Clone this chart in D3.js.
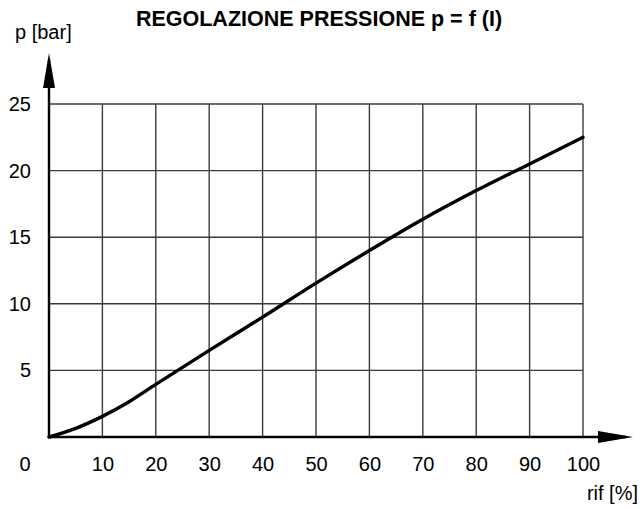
<!DOCTYPE html>
<html>
<head>
<meta charset="utf-8">
<script src="https://cdn.jsdelivr.net/npm/d3@7"></script>
<style>
  body { margin: 0; background: #fff; }
  svg { display: block; font-family: "Liberation Sans", Arial, sans-serif; }
</style>
</head>
<body>
<div id="chart"></div>
<script>
// curve: rif [%] -> p [bar]
const rif = [0, 5, 10, 15, 20, 30, 40, 50, 60, 70, 80, 90, 100];
const pressure = [0, 0.65, 1.55, 2.65, 3.95, 6.5, 9.0, 11.55, 14.0, 16.35, 18.5, 20.5, 22.5];
const xTicks = [10, 20, 30, 40, 50, 60, 70, 80, 90, 100];
const yTicks = [5, 10, 15, 20, 25];

const width = 640, height = 509;
const margin = { left: 49, right: 57, top: 104, bottom: 72 };
const fs = "20px";

const svg = d3.select("#chart").append("svg")
  .attr("width", width)
  .attr("height", height);

const x = d3.scaleLinear().domain([0, 100]).range([margin.left, width - margin.right]);
const y = d3.scaleLinear().domain([0, 25]).range([height - margin.bottom, margin.top]);

// grid
svg.append("g")
  .selectAll("line")
  .data(xTicks)
  .join("line")
  .attr("x1", d => x(d)).attr("x2", d => x(d))
  .attr("y1", y(0)).attr("y2", y(25))
  .attr("stroke", "#3a3a3a")
  .attr("stroke-width", 1.4);

svg.append("g")
  .selectAll("line")
  .data(yTicks)
  .join("line")
  .attr("x1", x(0)).attr("x2", x(100))
  .attr("y1", d => y(d)).attr("y2", d => y(d))
  .attr("stroke", "#3a3a3a")
  .attr("stroke-width", 1.4);

// axes with arrows
svg.append("line")
  .attr("x1", x(0)).attr("x2", x(0))
  .attr("y1", y(0)).attr("y2", 60)
  .attr("stroke", "#000").attr("stroke-width", 2.4);
svg.append("path")
  .attr("d", `M${x(0)},53 L${x(0) - 6},88 L${x(0) + 6},88 Z`)
  .attr("fill", "#000");

svg.append("line")
  .attr("x1", x(0)).attr("x2", 626)
  .attr("y1", y(0)).attr("y2", y(0))
  .attr("stroke", "#000").attr("stroke-width", 2.4);
svg.append("path")
  .attr("d", `M633,${y(0)} L598,${y(0) - 6} L598,${y(0) + 6} Z`)
  .attr("fill", "#000");

// tick labels
const yAxis = svg.append("g")
  .attr("transform", `translate(${x(0)},0)`)
  .call(d3.axisLeft(y).tickValues(yTicks).tickSize(0).tickPadding(18));
const xAxis = svg.append("g")
  .attr("transform", `translate(0,${y(0)})`)
  .call(d3.axisBottom(x).tickValues(xTicks).tickSize(0).tickPadding(20));

[yAxis, xAxis].forEach(g => {
  g.select(".domain").remove();
  g.selectAll("text")
    .attr("fill", "#000")
    .style("font-size", fs)
    .style("font-family", "'Liberation Sans', Arial, sans-serif");
});

svg.append("text")
  .attr("x", x(0) - 24).attr("y", 471)
  .attr("text-anchor", "middle")
  .style("font-size", fs)
  .text("0");

// curve
const line = d3.line()
  .x((d, i) => x(rif[i]))
  .y(d => y(d))
  .curve(d3.curveMonotoneX);

svg.append("path")
  .datum(pressure)
  .attr("d", line)
  .attr("fill", "none")
  .attr("stroke", "#000")
  .attr("stroke-width", 3.4)
  .attr("stroke-linecap", "round");

// titles
svg.append("text")
  .attr("x", 319).attr("y", 26)
  .attr("text-anchor", "middle")
  .style("font-size", "21.5px")
  .style("font-weight", "bold")
  .text("REGOLAZIONE PRESSIONE p = f (I)");

svg.append("text")
  .attr("x", 15).attr("y", 39)
  .style("font-size", fs)
  .text("p [bar]");

svg.append("text")
  .attr("x", 638).attr("y", 500)
  .attr("text-anchor", "end")
  .style("font-size", fs)
  .text("rif [%]");
</script>
</body>
</html>
